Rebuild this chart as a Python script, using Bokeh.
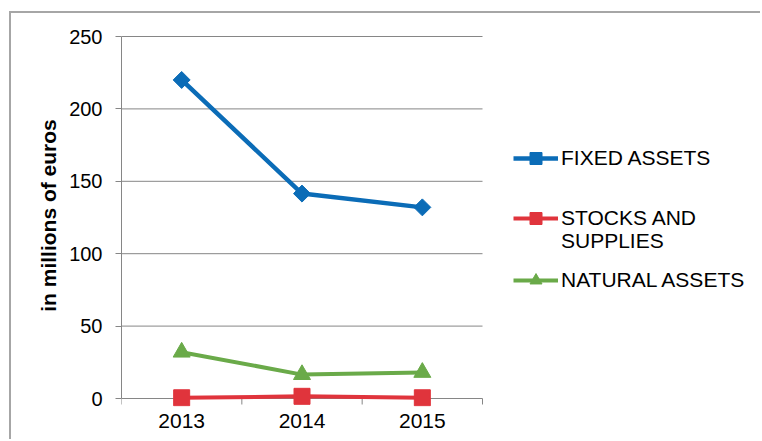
import math
from bokeh.plotting import figure
from bokeh.models import ColumnDataSource, FixedTicker, Legend, LegendItem, Range1d
from bokeh.embed import file_html
from bokeh.resources import INLINE

years = ["2013", "2014", "2015"]
fixed_assets = [220, 141.5, 132]
stocks_supplies = [0.5, 1.5, 0.5]
natural_assets = [32, 16.5, 18]
y_ticks = [0, 50, 100, 150, 200, 250]
legend_lines = ["FIXED ASSETS", "STOCKS AND", "SUPPLIES", "NATURAL ASSETS"]

FONT = "Liberation Sans"
GRAY = "#868686"

# layout (pixels)
W, H = 751, 428
FL, FT, FB = 110, 11, 35          # frame left / top / bottom borders
TOP_PX = 23                       # canvas y of the top tick value
AXIS_W = 361                      # width of the category area
ZERO_PX = 385                     # canvas y of value 0
TICK_PX = 6
frame_w = W - FL
frame_h = H - FT - FB
n = len(years)
x_end = n * frame_w / AXIS_W
y_top = y_ticks[-1]
units_per_px = y_top / (ZERO_PX - TOP_PX)
y_start = -(FT + frame_h - ZERO_PX) * units_per_px
y_end = y_top + (TOP_PX - FT) * units_per_px
tick_len = TICK_PX * units_per_px

xpos = [i + 0.5 for i in range(n)]
src = ColumnDataSource(dict(x=xpos, fixed=fixed_assets, stocks=stocks_supplies,
                            natural=natural_assets))
grid_src = ColumnDataSource(dict(x0=[0] * len(y_ticks), x1=[n] * len(y_ticks),
                                 y=y_ticks))
bnd = list(range(n + 1))
tick_src = ColumnDataSource(dict(x=bnd, y0=[0] * len(bnd),
                                 y1=[-tick_len] * len(bnd)))

p = figure(width=W, height=H, output_backend="svg", toolbar_location=None,
           x_range=Range1d(0, x_end), y_range=Range1d(y_start, y_end),
           min_border_left=FL, min_border_right=0, min_border_top=FT,
           min_border_bottom=FB,
           margin=(11, 0, 0, 9),
           styles={"border-left": "2px solid #a6a6a6",
                   "border-top": "2px solid #a6a6a6"})
p.outline_line_color = None
p.background_fill_color = "white"
p.border_fill_color = "white"
p.xgrid.grid_line_color = None
p.ygrid.grid_line_color = None

# horizontal grid lines (and x axis line at 0), limited to the category area
p.segment(x0="x0", x1="x1", y0="y", y1="y", source=grid_src,
          line_color=GRAY, line_width=1)
# category boundary tick marks below the x axis line
p.segment(x0="x", x1="x", y0="y0", y1="y1", source=tick_src,
          line_color=GRAY, line_width=1)

# y axis
yax = p.yaxis[0]
yax.ticker = FixedTicker(ticks=y_ticks, minor_ticks=[])
yax.bounds = (0, y_top)
yax.axis_line_color = GRAY
yax.major_tick_line_color = GRAY
yax.major_tick_out = 6
yax.major_tick_in = 0
yax.minor_tick_line_color = None
yax.major_label_text_font = FONT
yax.major_label_text_font_size = "20px"
yax.major_label_text_color = "black"
yax.major_label_standoff = 13
yax.axis_label = "in millions of euros"
yax.axis_label_text_font = FONT
yax.axis_label_text_font_size = "21px"
yax.axis_label_text_font_style = "bold"
yax.axis_label_text_color = "black"
yax.axis_label_standoff = 6

# x axis: labels only (line and ticks drawn above)
xax = p.xaxis[0]
xax.ticker = FixedTicker(ticks=xpos, minor_ticks=[])
xax.major_label_overrides = {x: y for x, y in zip(xpos, years)}
xax.axis_line_color = None
xax.major_tick_line_color = None
xax.major_tick_out = 0
xax.major_tick_in = 0
xax.minor_tick_line_color = None
xax.major_label_text_font = FONT
xax.major_label_text_font_size = "21px"
xax.major_label_text_color = "black"
xax.major_label_standoff = 7

BLUE = "#0b6cb7"
RED = "#e0343c"
GREEN = "#6aaa49"

l1 = p.line("x", "fixed", source=src, line_color=BLUE, line_width=4.5)
m1 = p.scatter("x", "fixed", source=src, marker="square", angle=math.pi / 4,
               size=12, color=BLUE)
l2 = p.line("x", "stocks", source=src, line_color=RED, line_width=4)
m2 = p.scatter("x", "stocks", source=src, marker="square", size=16, color=RED)
l3 = p.line("x", "natural", source=src, line_color=GREEN, line_width=4)
m3 = p.scatter("x", "natural", source=src, marker="triangle", size=17, color=GREEN)
# empty, invisible renderer for the legend's wrapped second line
blank = p.line(x=[], y=[], line_alpha=0)

locs = [(392, 233), (392, 173), (392, 153), (392, 111)]
gh = [30, 30, 24, 30]
for name, rs, loc, g in zip(legend_lines, [[l1, m1], [l2, m2], [blank], [l3, m3]],
                            locs, gh):
    lg = Legend(items=[LegendItem(label=name, renderers=rs)], location=loc,
                padding=0, margin=0, border_line_color=None,
                background_fill_alpha=0, glyph_width=45, glyph_height=g,
                label_standoff=3, label_text_font=FONT,
                label_text_font_size="21px", label_text_color="black",
                label_height=24)
    p.add_layout(lg, "center")

open("out.html", "w").write(file_html(p, INLINE))
